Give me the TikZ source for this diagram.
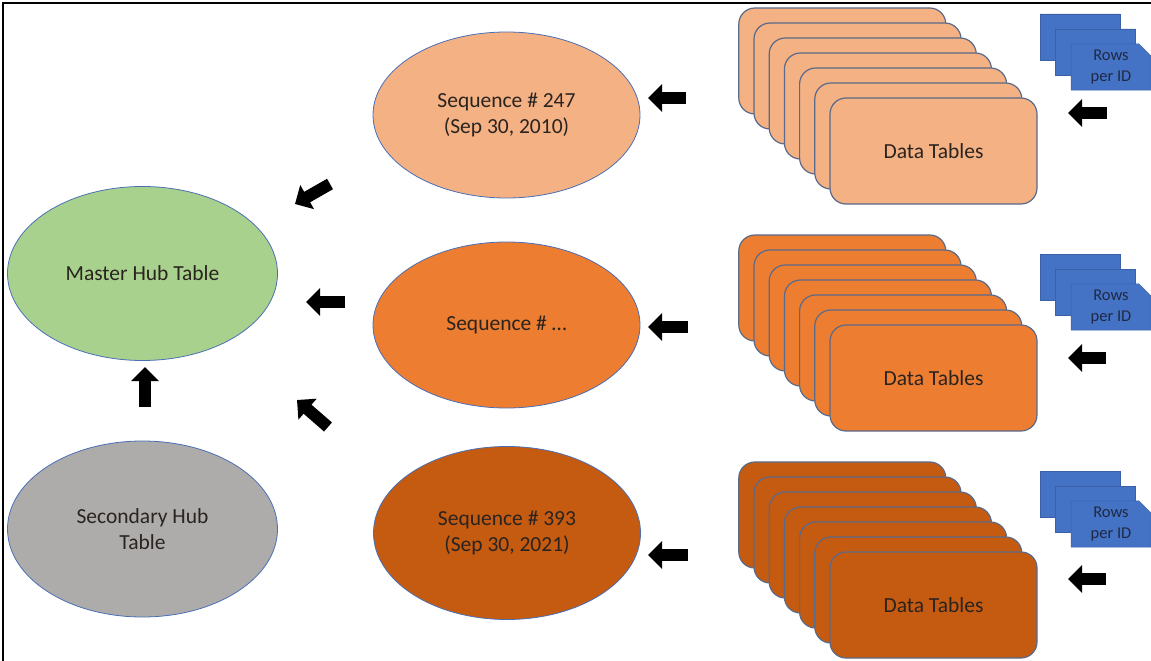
\documentclass[tikz,border=0pt]{standalone}
\usepackage{fontspec}
\setmainfont{Carlito}
\usetikzlibrary{shapes.geometric,shapes.misc,arrows.meta}

\definecolor{seqlight}{HTML}{F4B183}
\definecolor{seqmid}{HTML}{ED7D31}
\definecolor{seqdark}{HTML}{C55A11}
\definecolor{hubgreen}{HTML}{A9D18E}
\definecolor{hubgray}{HTML}{AEABAB}
\definecolor{rowblue}{HTML}{4472C4}
\definecolor{ellline}{HTML}{4A6FB5}
\definecolor{tabline}{HTML}{5A6A8A}
\definecolor{txt}{HTML}{2A2420}
\definecolor{rowtxt}{HTML}{1F2A44}

\tikzset{
  hub/.style={ellipse, draw=ellline, line width=0.8pt, minimum width=270pt,
    minimum height=174pt, inner sep=0pt, align=center, text=txt,
    font=\fontsize{21.5}{26}\selectfont},
  seqnode/.style={hub, minimum width=267pt, minimum height=166pt},
  datatab/.style={rectangle, rounded corners=16pt, draw=tabline, line width=1.2pt,
    minimum width=207pt, minimum height=106pt, text=txt,
    font=\fontsize{21.5}{26}\selectfont},
  rowsbox/.style={chamfered rectangle, chamfered rectangle corners=north east,
    chamfered rectangle xsep=6pt, chamfered rectangle ysep=6pt,
    fill=rowblue, draw=rowblue!85!black, line width=0.5pt,
    minimum width=80pt, minimum height=46pt, inner sep=0pt, align=center,
    text=rowtxt, font=\fontsize{16.5}{21}\selectfont},
  blockarrow/.style={line width=12pt, -{Triangle[length=14pt,width=27pt]}},
}

\begin{document}
\begin{tikzpicture}[x=1pt,y=-1pt]
  \useasboundingbox (0,0) rectangle (1151,661);
  % Frame (top and left edge only)
  \draw[line width=2pt] (2.5,661) -- (2.5,3.5) -- (1151,3.5);

  % Hub tables
  \node[hub, fill=hubgreen] (master) at (142.5,273.5) {Master Hub Table};
  \node[hub, fill=hubgray, minimum height=176pt] (second) at (142.5,529) {Secondary Hub\\Table};

  % Sequences
  \node[seqnode, fill=seqlight] (seqA) at (506.5,115) {Sequence \# 247\\(Sep 30, 2010)};
  \node[seqnode, fill=seqmid] (seqB) at (506.5,325) {Sequence \# …};
  \node[seqnode, fill=seqdark, minimum height=173pt] (seqC) at (507,533) {Sequence \# 393\\(Sep 30, 2021)};

  % Stacks of data tables
  \foreach \s/\col/\y in {A/seqlight/151, B/seqmid/378, C/seqdark/605} {
    \foreach \i in {6,...,1}
      \node[datatab, fill=\col] (tab\s\i) at ({933.5-15.2*\i},{\y-15*\i}) {};
    \node[datatab, fill=\col] (tab\s) at (933.5,\y) {Data Tables};
  }

  % Rows per ID
  \foreach \s/\y in {A/37, B/277, C/494} {
    \node[rowsbox] (rows\s1) at (1080,\y) {};
    \node[rowsbox] (rows\s2) at (1095.5,{\y+15}) {};
    \node[rowsbox] (rows\s3) at (1111,{\y+30}) {Rows\\per ID};
  }

  % Arrow ends
  \coordinate (rA1) at (1107,113);  \coordinate (rA2) at (1068,113);
  \coordinate (rB1) at (1106,358);  \coordinate (rB2) at (1068,358);
  \coordinate (rC1) at (1106,579);  \coordinate (rC2) at (1068,579);
  \coordinate (tA1) at (686,98);    \coordinate (tA2) at (648,98);
  \coordinate (tB1) at (688,327);   \coordinate (tB2) at (648,327);
  \coordinate (tC1) at (688,555);   \coordinate (tC2) at (648,555);
  \coordinate (sA1) at (330,184);   \coordinate (sA2) at (295,204);
  \coordinate (sB1) at (345,302);   \coordinate (sB2) at (306,302);
  \coordinate (sC1) at (328,427);   \coordinate (sC2) at (297,400);
  \coordinate (h1) at (145,407);    \coordinate (h2) at (145,367);

  % Draw block arrows
  \foreach \a in {rA,rB,rC,tA,tB,tC,sA,sB,sC}
    \draw[blockarrow] (\a1) -- (\a2);
  \draw[blockarrow] (h1) -- (h2);
\end{tikzpicture}
\end{document}
